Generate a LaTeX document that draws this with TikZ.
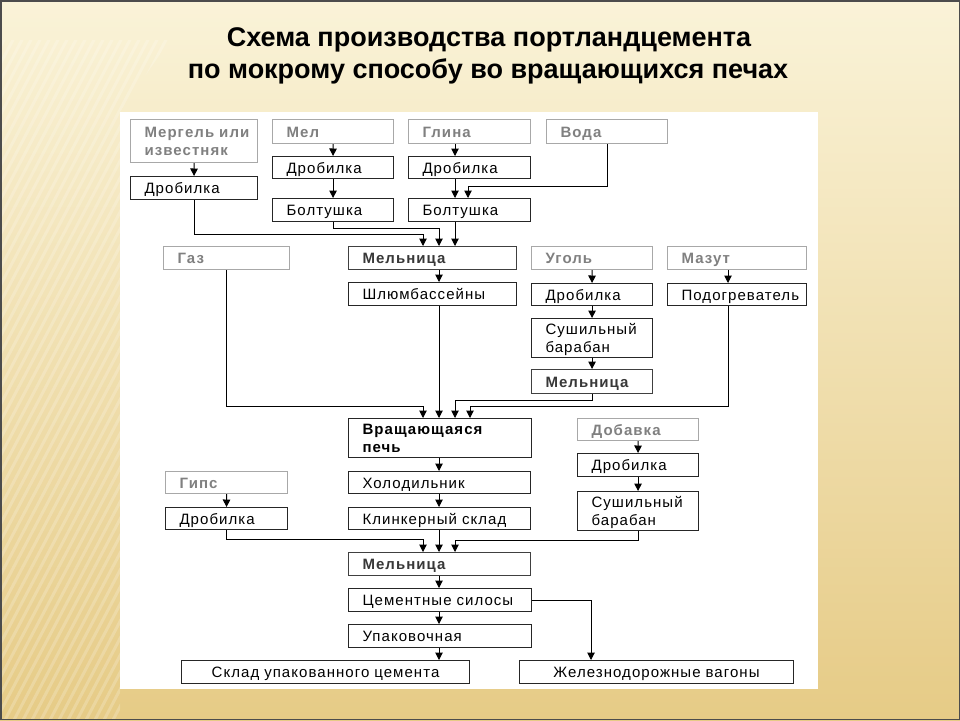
\documentclass[tikz,border=0pt]{standalone}
\usepackage{fontspec}
\setmainfont{Liberation Sans}
\newfontfamily\labfont[LetterSpace=7]{Liberation Sans}
\usetikzlibrary{arrows.meta,calc}
\definecolor{bgtop}{HTML}{FAF3D8}
\definecolor{bgmid}{HTML}{F5EAC5}
\definecolor{bgbot}{HTML}{E6CB86}
\definecolor{srcline}{HTML}{A8A8A8}
\definecolor{srctext}{HTML}{808080}
\definecolor{milltext}{HTML}{383838}
\newcommand\padx{14}
\newcommand\mkbox[7]{%
  \pgfmathsetmacro\bw{#5-#3}%
  \pgfmathsetmacro\bh{#6-#4}%
  \pgfmathsetmacro\tw{#5-#3-2*\padx}%
  \node[#1, anchor=north west, minimum width=\bw pt, minimum height=\bh pt,
        text width=\tw pt] (#2) at (#3,#4) {#7};}
\begin{document}
\begin{tikzpicture}[x=1pt,y=-1pt,
  basebox/.style={rectangle, inner xsep=\padx pt, inner ysep=0pt, align=left,
     font=\labfont\fontsize{15}{18}\selectfont, text height=11pt, text depth=0pt},
  twoline/.style={text depth=18pt},
  src/.style={basebox, draw=srcline, line width=1.2pt, text=srctext,
     font=\labfont\bfseries\fontsize{15}{18}\selectfont},
  proc/.style={basebox, draw=black!85, line width=1.1pt, text=black},
  mill/.style={basebox, draw=black!75, line width=1.1pt, text=milltext,
     font=\labfont\bfseries\fontsize{15}{18}\selectfont},
  kiln/.style={basebox, draw=black!85, line width=1.1pt, text=black,
     font=\labfont\bfseries\fontsize{15}{18}\selectfont},
  ctr/.style={align=center},
  arr/.style={line width=1pt, draw=black, -{Triangle[width=7.5pt,length=7.5pt]}},
  titlefont/.style={font=\bfseries\fontsize{27}{32}\selectfont, text=black, inner sep=0pt}
]
\useasboundingbox (0,0) rectangle (960,720);
% background
\shade[top color=bgtop, middle color=bgmid, bottom color=bgbot] (0,0) rectangle (960,720);
\begin{scope}
  \clip (0,40) -- (170,40) -- (120,112) -- (120,720) -- (0,720) -- cycle;
  \foreach \k in {0,...,110} {
    \draw[white, opacity=0.2, line width=3pt] (-400+\k*9,720) -- ++(380,-720);
  }
\end{scope}
\draw[black!70, line width=1.5pt] (0.75,0.75) rectangle (959.25,719.25);
\fill[white] (120,112) rectangle (818,689);

% title
\node[titlefont, anchor=base] (t1) at (489,46) {Схема производства портландцемента};
\node[titlefont, anchor=base] (t2) at (488,78) {по мокрому способу во вращающихся печах};

% x positions of connectors
\coordinate (c423) at (423,0);
\coordinate (c439) at (439,0);
\coordinate (c455) at (455,0);
\coordinate (c468) at (468,0);
\coordinate (c470) at (470,0);
\coordinate (c591) at (591,0);
\coordinate (c728) at (728,0);

% source boxes
\mkbox{src,twoline,inner xsep=13pt}{merg}{130}{119}{257}{162}{Мергель~или\\известняк}
\mkbox{src}{mel}{272}{119}{393}{143}{Мел}
\mkbox{src}{glina}{408}{119}{530}{143}{Глина}
\mkbox{src}{voda}{546}{119}{667}{143}{Вода}
\mkbox{src}{gaz}{163}{246}{289}{269}{Газ}
\mkbox{src}{ugol}{531}{246}{652}{269}{Уголь}
\mkbox{src}{mazut}{667}{246}{806}{269}{Мазут}
\mkbox{src}{dobavka}{577}{418}{698}{440}{Добавка}
\mkbox{src}{gips}{165}{471}{287}{493}{Гипс}

% process boxes
\mkbox{proc}{dr1}{130}{176}{257}{199}{Дробилка}
\mkbox{proc}{dr2}{272}{156}{393}{178}{Дробилка}
\mkbox{proc}{bo2}{272}{198}{393}{221}{Болтушка}
\mkbox{proc}{dr3}{408}{156}{530}{178}{Дробилка}
\mkbox{proc}{bo3}{408}{198}{530}{221}{Болтушка}
\mkbox{mill}{mil1}{348}{246}{516}{269}{Мельница}
\mkbox{proc}{shl}{348}{282}{516}{305}{Шлюмбассейны}
\mkbox{proc}{dr4}{531}{283}{652}{305}{Дробилка}
\mkbox{proc,twoline}{sush1}{531}{318}{652}{357}{Сушильный\\барабан}
\mkbox{mill}{mil2}{531}{369}{652}{393}{Мельница}
\mkbox{proc,inner xsep=13pt}{pod}{667}{283}{806}{305}{Подогреватель}
\mkbox{kiln,twoline}{pech}{348}{418}{531}{457}{Вращающаяся\\печь}
\mkbox{proc}{hol}{348}{471}{530}{493}{Холодильник}
\mkbox{proc}{kli}{348}{507}{530}{529}{Клинкерный склад}
\mkbox{proc}{dr5}{165}{507}{287}{529}{Дробилка}
\mkbox{proc}{dr6}{577}{453}{698}{476}{Дробилка}
\mkbox{proc,twoline}{sush2}{577}{491}{698}{530}{Сушильный\\барабан}
\mkbox{mill}{mil3}{348}{552}{530}{575}{Мельница}
\mkbox{proc}{sil}{348}{588}{531}{611}{Цементные силосы}
\mkbox{proc}{upak}{348}{624}{531}{647}{Упаковочная}
\mkbox{proc,ctr}{sklad}{181}{660}{469}{683}{Склад упакованного цемента}
\mkbox{proc,ctr}{zhd}{519}{660}{793}{683}{Железнодорожные вагоны}

% connectors: raw materials
\draw[arr] (merg.south) -- (dr1.north);
\draw[arr] (mel.south) -- (dr2.north);
\draw[arr] (dr2.south) -- (bo2.north);
\draw[arr] (glina.south -| c455) -- (dr3.north -| c455);
\draw[arr] (dr3.south -| c455) -- (bo3.north -| c455);
\draw[arr] (voda.south) -- ++(0,42) -| (bo3.north -| c468);
\draw[arr] (dr1.south) -- ++(0,34) -| (mil1.north -| c423);
\draw[arr] (bo2.south) -- ++(0,6) -| (mil1.north -| c439);
\draw[arr] (bo3.south -| c455) -- (mil1.north -| c455);
\draw[arr] (mil1.south -| c439) -- (shl.north -| c439);
% kiln inputs
\draw[arr] (gaz.south) -- ++(0,136) -| (pech.north -| c423);
\draw[arr] (shl.south -| c439) -- (pech.north -| c439);
\draw[arr] (ugol.south) -- (dr4.north);
\draw[arr] (dr4.south) -- (sush1.north);
\draw[arr] (sush1.south) -- (mil2.north);
\draw[arr] (mil2.south) -- ++(0,6) -| (pech.north -| c455);
\draw[arr] (mazut.south -| c728) -- (pod.north -| c728);
\draw[arr] (pod.south -| c728) -- ++(0,100) -| (pech.north -| c470);
% clinker line
\draw[arr] (pech.south -| c439) -- (hol.north -| c439);
\draw[arr] (hol.south -| c439) -- (kli.north -| c439);
\draw[arr] (gips.south) -- (dr5.north);
\draw[arr] (dr5.south) -- ++(0,9) -| (mil3.north -| c423);
\draw[arr] (kli.south -| c439) -- (mil3.north -| c439);
\draw[arr] (dobavka.south) -- (dr6.north);
\draw[arr] (dr6.south) -- (sush2.north);
\draw[arr] (sush2.south) -- ++(0,9) -| (mil3.north -| c455);
\draw[arr] (mil3.south -| c439) -- (sil.north -| c439);
\draw[arr] (sil.south -| c439) -- (upak.north -| c439);
\draw[arr] (upak.south -| c439) -- (sklad.north -| c439);
\draw[arr] (sil.east) -| (zhd.north -| c591);
\end{tikzpicture}
\end{document}
